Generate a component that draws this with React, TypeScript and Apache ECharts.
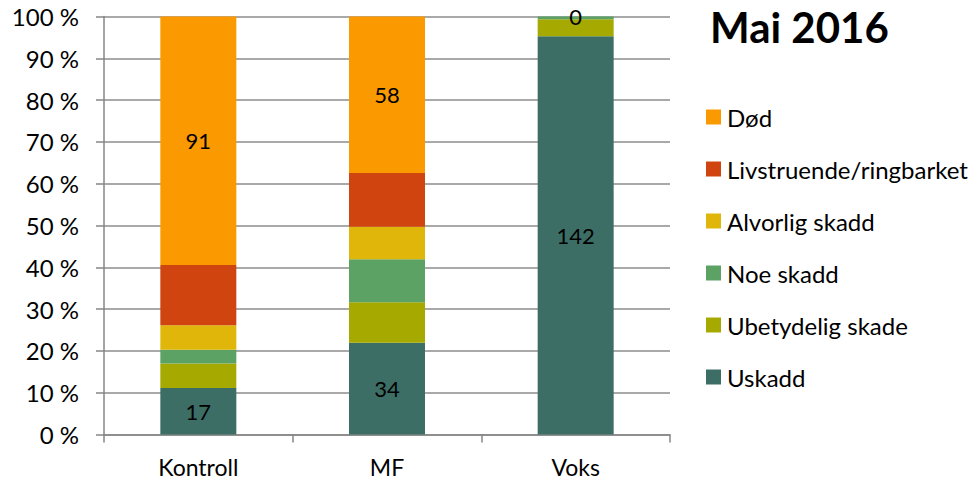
import React, { useEffect, useRef } from "react";
import * as echarts from "echarts";

const categories = ["Kontroll", "MF", "Voks"];
const seriesNames = ["Uskadd", "Ubetydelig skade", "Noe skadd", "Alvorlig skadd", "Livstruende/ringbarket", "Død"];
const uskadd = [17, 34, 142];
const ubetydelig = [9, 15, 6];
const noeSkadd = [5, 16, 1];
const alvorlig = [9, 12, 0];
const livstruende = [22, 20, 0];
const dod = [91, 58, 0];
const yTicks = [0, 10, 20, 30, 40, 50, 60, 70, 80, 90, 100];
const colors = ["#3d6e66", "#a6aa00", "#5ba264", "#e1b60a", "#d0450f", "#fb9a00"];
const labelled = [true, false, false, false, false, true];

const FONT = "Lato";

export default function App() {
  const ref = useRef<HTMLDivElement>(null);
  useEffect(() => {
    document.body.style.margin = "0";
    if (!ref.current) return;
    const chart = echarts.init(ref.current, undefined, { renderer: "svg" });
    const all = [uskadd, ubetydelig, noeSkadd, alvorlig, livstruende, dod];
    const totals = categories.map((_, i) => all.reduce((s, a) => s + a[i], 0));
    const series = all.map((arr, si) => ({
      name: seriesNames[si],
      type: "bar",
      stack: "total",
      barWidth: 76,
      itemStyle: { color: colors[si] },
      data: arr.map((v, i) => (v / totals[i]) * 100),
      label: {
        show: labelled[si],
        position: "inside",
        color: "#000",
        fontFamily: FONT,
        fontSize: 22,
        formatter: (p: any) => String(arr[p.dataIndex]),
      },
    }));
    chart.setOption({
      animation: false,
      textStyle: { fontFamily: FONT },
      title: {
        text: "Mai 2016",
        left: 705,
        top: 1,
        textStyle: { fontFamily: FONT, fontSize: 42, fontWeight: "bold", color: "#000" },
      },
      legend: {
        orient: "vertical",
        left: 701,
        top: 100,
        itemWidth: 15,
        itemHeight: 15,
        itemGap: 28,
        icon: "rect",
        data: [...seriesNames].reverse(),
        textStyle: { fontFamily: FONT, fontSize: 24, color: "#000", lineHeight: 24, padding: [0, 0, 0, 1] },
      },
      grid: { left: 104, right: 308, top: 16.5, bottom: 46.5 },
      xAxis: {
        type: "category",
        data: categories,
        axisLine: { lineStyle: { color: "#868686", width: 1.5 } },
        axisTick: { show: true, length: 8, lineStyle: { color: "#868686", width: 1.5 } },
        axisLabel: { color: "#000", fontSize: 23, fontFamily: FONT, margin: 21 },
      },
      yAxis: {
        type: "value",
        min: yTicks[0],
        max: yTicks[yTicks.length - 1],
        interval: 10,
        axisLine: { show: true, lineStyle: { color: "#868686", width: 1.5 } },
        axisTick: { show: true, length: 8, lineStyle: { color: "#868686", width: 1.5 } },
        axisLabel: { color: "#000", fontSize: 24, fontFamily: FONT, margin: 25, formatter: "{value} %" },
        splitLine: { lineStyle: { color: "#8c8c8c", width: 1.5 } },
      },
      series,
    });
    return () => chart.dispose();
  }, []);
  return <div ref={ref} style={{ width: 978, height: 481 }} />;
}
